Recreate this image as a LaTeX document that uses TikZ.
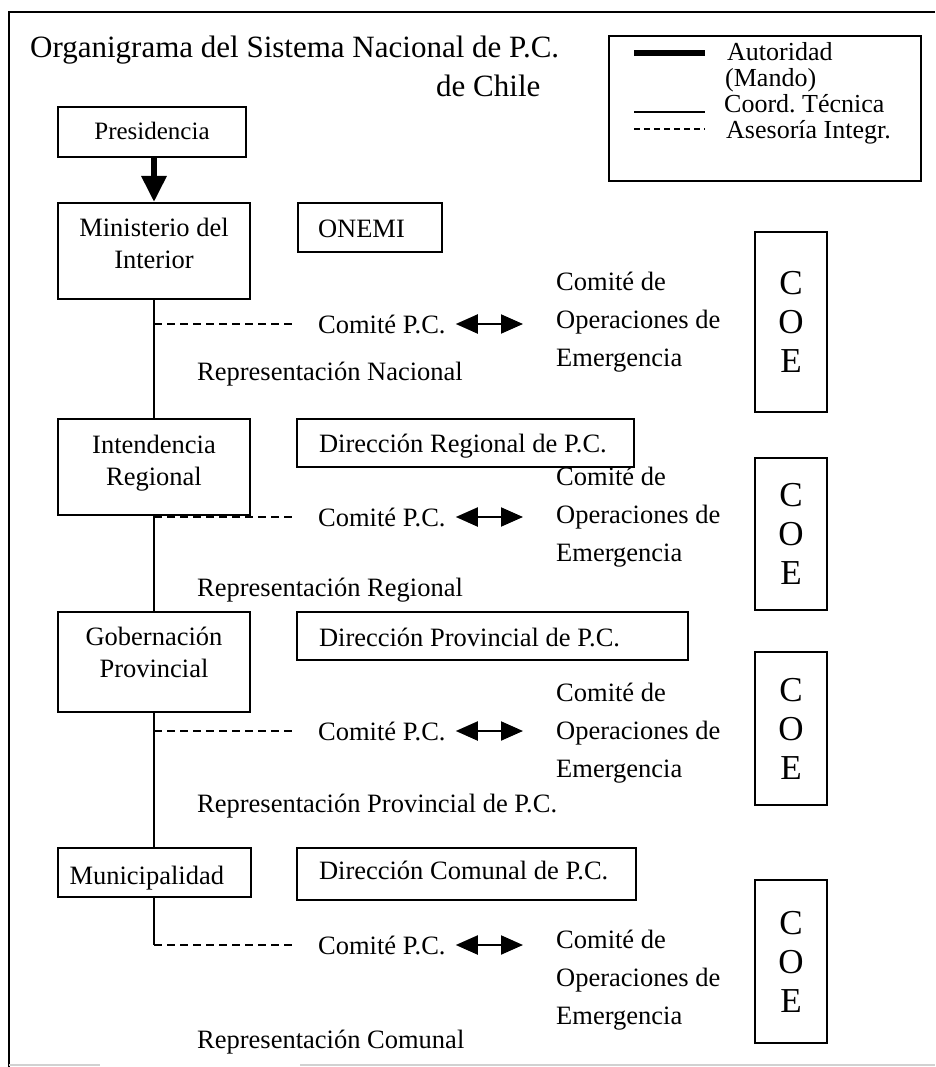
\documentclass[tikz,border=0pt]{standalone}
\usepackage{fontspec}
\setmainfont{Liberation Serif}
\usetikzlibrary{arrows.meta}
\begin{document}
\frenchspacing
\begin{tikzpicture}[x=1pt,y=-1pt,
  box/.style={draw, line width=2pt, inner sep=0pt, align=center,
    font=\fontsize{26.5}{32}\selectfont},
  leftbox/.style={draw, line width=2pt, inner ysep=0pt,
    font=\fontsize{26.5}{32}\selectfont},
  lbl/.style={inner sep=0pt, anchor=base west, font=\fontsize{26.5}{32}\selectfont},
  legtext/.style={inner sep=0pt, anchor=base west, font=\fontsize{26}{30}\selectfont},
  coetext/.style={inner sep=0pt, anchor=west, align=left,
    font=\fontsize{26.5}{38}\selectfont},
  coebox/.style={draw, line width=2pt, inner sep=0pt, minimum width=72pt,
    align=center, font=\fontsize{35}{39}\selectfont},
  command/.style={line width=6pt, -{Triangle[width=24pt,length=26pt]}},
  coord/.style={line width=2pt},
  advice/.style={line width=1.5pt, dash pattern=on 8pt off 5pt},
  twoway/.style={line width=2pt,
    {Triangle[width=19pt,length=22pt]}-{Triangle[width=19pt,length=22pt]}},
]
\useasboundingbox (0,0) rectangle (935,1067);

% outer frame
\draw[line width=2.5pt] (935,12) -- (9,12) -- (9,1067);
\draw[line width=2pt, black!18] (9,1065) -- (100,1065) (300,1065) -- (935,1065);

% title
\node[lbl, font=\fontsize{31}{36}\selectfont] (title1) at (30,58) {Organigrama del Sistema Nacional de P.C.};
\node[lbl, font=\fontsize{31}{36}\selectfont] (title2) at (436,97) {de Chile};

% legend
\node[draw, line width=2pt, minimum width=312pt, minimum height=145pt, inner sep=0pt] (legend) at (765,108.5) {};
\coordinate (la) at (634,53);  \coordinate (lb) at (705,53);
\coordinate (lc) at (634,112); \coordinate (ld) at (705,112);
\coordinate (le) at (634,129); \coordinate (lf) at (705,129);
\draw[line width=6pt] (la) -- (lb);
\draw[line width=1.5pt] (lc) -- (ld);
\draw[line width=1.5pt, dash pattern=on 6pt off 4pt] (le) -- (lf);
\node[legtext] (lt1) at (727,61) {Autoridad};
\node[legtext] (lt2) at (725,87) {(Mando)};
\node[legtext] (lt3) at (724,113) {Coord. Técnica};
\node[legtext] (lt4) at (726,139) {Asesoría Integr.};

% authorities (two-line boxes: height measured to the last baseline)
\node[box, minimum width=188pt, text height=33pt, text depth=17pt,
  font=\fontsize{25}{30}\selectfont] (pres) at (152,132) {Presidencia};
\node[box, minimum width=192pt, text height=65pt, text depth=31pt] (mint) at (154,251) {Ministerio del\\Interior};
\node[box, minimum width=192pt, text height=66pt, text depth=30pt] (inte) at (154,467) {Intendencia\\Regional};
\node[box, minimum width=192pt, text height=65pt, text depth=35pt] (gobe) at (154,662) {Gobernación\\Provincial};
\node[leftbox, inner xsep=12pt, text height=36pt, text depth=13pt] (muni) at (154,872.5) {\makebox[169pt][l]{Municipalidad}};

% civil protection offices
\node[leftbox, inner xsep=20pt, text height=34pt, text depth=15pt] (onemi) at (370,227.5) {\makebox[104pt][l]{ONEMI}};
\node[leftbox, inner xsep=22pt, text height=33pt, text depth=15pt] (dreg) at (465.5,443) {\makebox[293pt][l]{Dirección Regional de P.C.}};
\node[leftbox, inner xsep=22pt, text height=34pt, text depth=14pt] (dprov) at (492.5,636) {\makebox[347pt][l]{Dirección Provincial de P.C.}};
\node[leftbox, inner xsep=22pt, text height=31pt, text depth=21pt] (dcom) at (466.5,874) {\makebox[295pt][l]{Dirección Comunal de P.C.}};

% committees
\node[lbl] (cpc1) at (318,333) {Comité P.C.};
\node[lbl] (cpc2) at (318,526) {Comité P.C.};
\node[lbl] (cpc3) at (318,740) {Comité P.C.};
\node[lbl] (cpc4) at (318,954) {Comité P.C.};

\node[coetext] (coe1) at (556,322) {Comité de\\Operaciones de\\Emergencia};
\node[coetext] (coe2) at (556,517) {Comité de\\Operaciones de\\Emergencia};
\node[coetext] (coe3) at (556,733) {Comité de\\Operaciones de\\Emergencia};
\node[coetext] (coe4) at (556,980) {Comité de\\Operaciones de\\Emergencia};

\node[coebox, minimum height=180pt] (cb1) at (791,322) {C\\O\\E};
\node[coebox, minimum height=152pt] (cb2) at (791,534) {C\\O\\E};
\node[coebox, minimum height=153pt] (cb3) at (791,728.5) {C\\O\\E};
\node[coebox, minimum height=163pt] (cb4) at (791,961.5) {C\\O\\E};

% representation labels
\node[lbl] (rep1) at (197,380) {Representación Nacional};
\node[lbl] (rep2) at (197,596) {Representación Regional};
\node[lbl] (rep3) at (197,812) {Representación Provincial de P.C.};
\node[lbl] (rep4) at (197,1048) {Representación Comunal};

% chain of command
\draw[command] (mint.north |- pres.south) -- (mint.north);
\draw[coord] (mint.south) -- (inte.north);
\draw[coord] (inte.south) -- (gobe.north);
\draw[coord] (gobe.south) -- (muni.north);
\coordinate (j4) at (154,945);
\draw[coord] (muni.south) -- (j4);

% advisory links to the committees
\coordinate (j1) at (154,324);
\coordinate (j2) at (154,517);
\coordinate (j3) at (154,731);
\draw[advice, shorten >=22pt] (j1) -- (j1 -| cpc1.west);
\draw[advice, shorten >=22pt] (j2) -- (j2 -| cpc2.west);
\draw[advice, shorten >=22pt] (j3) -- (j3 -| cpc3.west);
\draw[advice, shorten >=22pt] (j4) -- (j4 -| cpc4.west);

% committee <-> emergency operations committee
\draw[twoway, shorten <=10pt, shorten >=33pt] (cpc1.east |- j1) -- (coe1.west |- j1);
\draw[twoway, shorten <=10pt, shorten >=33pt] (cpc2.east |- j2) -- (coe2.west |- j2);
\draw[twoway, shorten <=10pt, shorten >=33pt] (cpc3.east |- j3) -- (coe3.west |- j3);
\draw[twoway, shorten <=10pt, shorten >=33pt] (cpc4.east |- j4) -- (coe4.west |- j4);
\end{tikzpicture}
\end{document}
